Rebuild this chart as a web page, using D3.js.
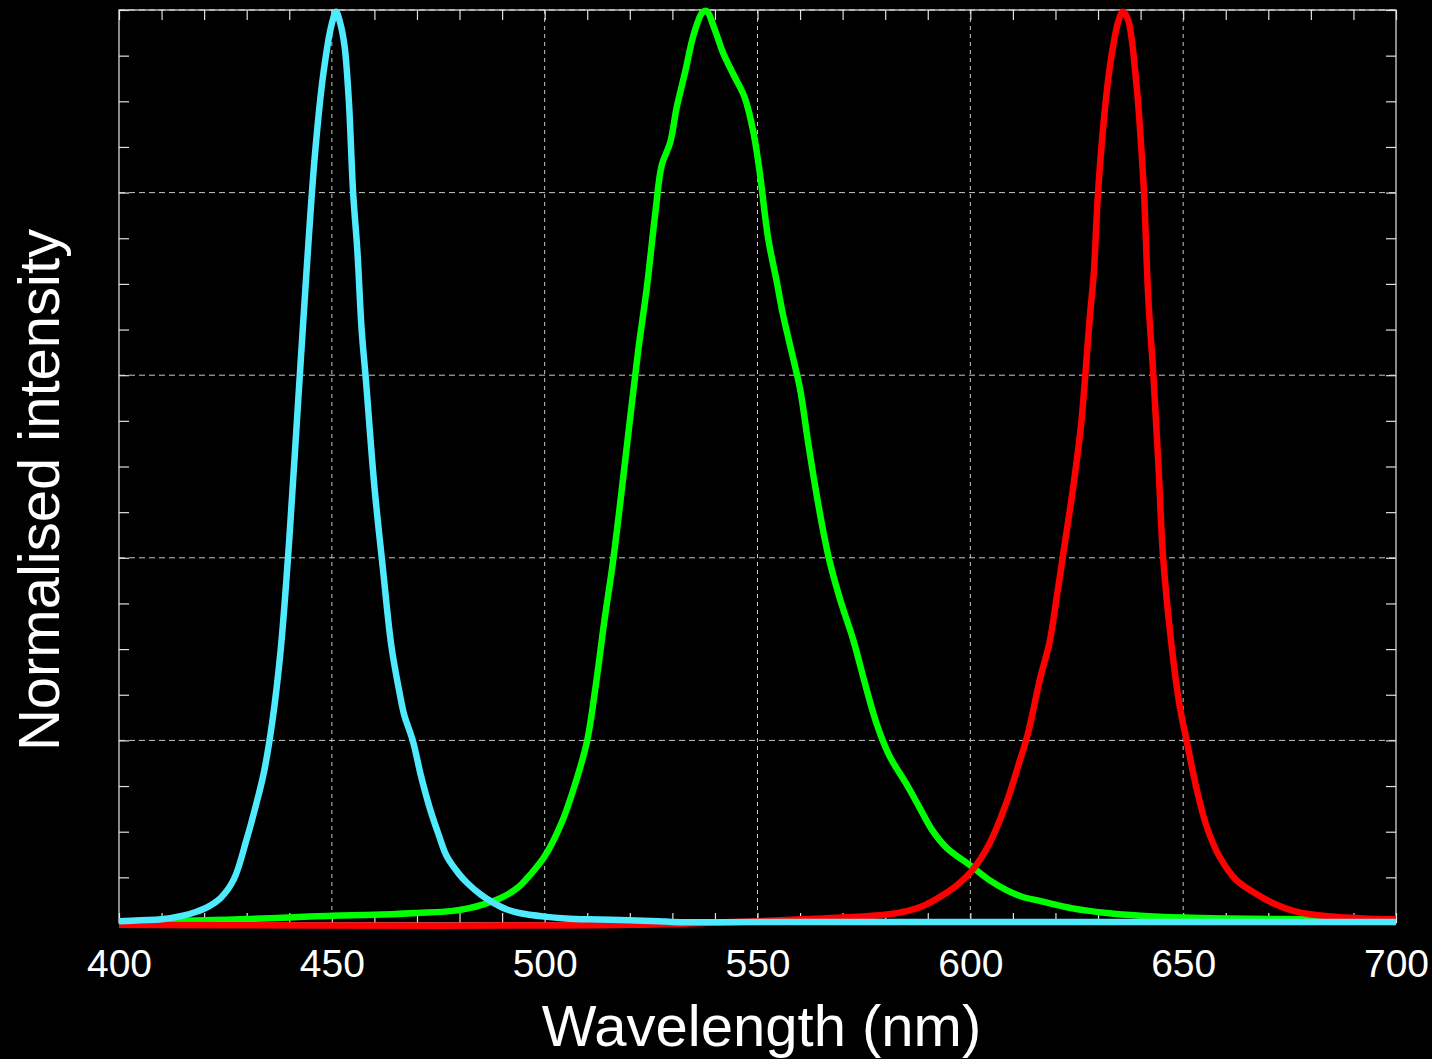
<!DOCTYPE html>
<html>
<head>
<meta charset="utf-8">
<script src="https://cdn.jsdelivr.net/npm/d3@7"></script>
<style>
html,body{margin:0;padding:0;background:#000;}
svg{display:block;}
</style>
</head>
<body>
<svg id="chart" width="1432" height="1059"></svg>
<script>
// ---- data ----
const xTickLabels = [400, 450, 500, 550, 600, 650, 700];
const xGridValues = [450, 500, 550, 600, 650];
const yGridValues = [0.2, 0.4, 0.6, 0.8, 1.0];

const blueWl  = [400,405,410,415,418,421,424,427,430,432,434,436,438,440,442,444,446,448,450,451,452,453,454,455,456,457,458,460,462,464,466,467,469,471,473,475,477,480,482,485,488,491,494,500,505,510,520,527,530,550,600,650,700];
const blueVal = [0.002,0.003,0.004,0.008,0.012,0.018,0.028,0.048,0.092,0.126,0.164,0.22,0.30,0.42,0.565,0.71,0.84,0.93,0.985,0.998,0.985,0.96,0.9,0.8,0.736,0.65,0.595,0.478,0.388,0.303,0.25,0.228,0.2,0.16,0.126,0.098,0.073,0.053,0.043,0.031,0.022,0.015,0.011,0.007,0.005,0.004,0.003,0.002,0.001,0.001,0.001,0.001,0.001];

const greenWl  = [400,420,440,450,460,470,478,482,486,490,494,497,500,504,508,510,512,514,516,518,520,522,524,526,527.5,529.5,531,533,535,537,538,540,542,544.5,547,549,550.5,552.5,554.5,556,558.5,560,562,564,566,567,569.5,572.5,575.5,578,581,585,588,591,594.5,600,604.5,608.5,612,616.5,624,632,640,650,660,680,700];
const greenVal = [0.002,0.003,0.006,0.008,0.009,0.011,0.013,0.016,0.021,0.028,0.04,0.055,0.073,0.11,0.165,0.2,0.26,0.33,0.394,0.47,0.55,0.628,0.696,0.778,0.83,0.855,0.893,0.932,0.973,0.997,0.999,0.978,0.952,0.928,0.904,0.867,0.823,0.75,0.703,0.666,0.616,0.585,0.523,0.466,0.416,0.395,0.353,0.31,0.258,0.218,0.183,0.152,0.127,0.102,0.082,0.063,0.047,0.036,0.029,0.024,0.016,0.011,0.008,0.006,0.005,0.004,0.003];

const redWl  = [400,520,550,560,570,580,585,589,593,597,600.5,604.5,608.5,611.5,613.5,616.5,618.5,620.5,622,624,626,627,628,629,630,631.5,633,634.8,635.8,637,639,640,640.8,641.8,643,644.2,645.3,647.3,649.2,650.8,653.2,655.5,658.5,662.5,667.5,671,677,685,692,700];
const redVal = [-0.002,-0.002,0.002,0.004,0.006,0.009,0.013,0.019,0.029,0.042,0.058,0.087,0.132,0.176,0.207,0.27,0.305,0.363,0.41,0.472,0.545,0.6,0.66,0.712,0.8,0.886,0.945,0.988,0.998,0.99,0.92,0.86,0.8,0.685,0.6,0.5,0.4,0.303,0.237,0.2,0.146,0.106,0.073,0.047,0.031,0.022,0.012,0.007,0.005,0.004];

const series = [
  {name: "green", wl: greenWl, val: greenVal, color: "#00ff00"},
  {name: "red",   wl: redWl,   val: redVal,   color: "#ff0000"},
  {name: "blue",  wl: blueWl,  val: blueVal,  color: "#50eaff"}
];

// ---- layout ----
const svg = d3.select("#chart");
const pLeft = 119, pRight = 1396, pTop = 10, pBottom = 923;

const x = d3.scaleLinear().domain([400, 700]).range([pLeft, pRight]);
const y = d3.scaleLinear().domain([0, 1]).range([pBottom, pTop]);

svg.append("rect").attr("width", 1432).attr("height", 1059).attr("fill", "#000");

const g = svg.append("g");

// grid
g.selectAll("line.vgrid").data(xGridValues).enter().append("line")
  .attr("x1", d => x(d)).attr("x2", d => x(d))
  .attr("y1", pTop).attr("y2", pBottom)
  .attr("stroke", "#c8c8c8").attr("stroke-width", 1).attr("stroke-dasharray", "4,4");
g.selectAll("line.hgrid").data(yGridValues).enter().append("line")
  .attr("x1", pLeft).attr("x2", pRight)
  .attr("y1", d => y(d)).attr("y2", d => y(d))
  .attr("stroke", "#c8c8c8").attr("stroke-width", 1).attr("stroke-dasharray", "6,4");

// minor ticks via axes
const tickLen = 10;
const xMinor = d3.range(400, 701, 10);
const yMinor = d3.range(0, 1.0001, 0.05);

const axBottom = d3.axisTop(x).tickValues(xMinor).tickSize(tickLen).tickFormat("");
const axTop = d3.axisBottom(x).tickValues(xMinor).tickSize(tickLen).tickFormat("");
const axLeft = d3.axisRight(y).tickValues(yMinor).tickSize(tickLen).tickFormat("");
const axRight = d3.axisLeft(y).tickValues(yMinor).tickSize(tickLen).tickFormat("");

function styleAxis(sel){
  sel.select(".domain").remove();
  sel.selectAll(".tick line").attr("stroke", "#e0e0e0").attr("stroke-width", 1.2);
}
g.append("g").attr("transform", `translate(0,${pBottom})`).call(axBottom).call(styleAxis);
g.append("g").attr("transform", `translate(0,${pTop})`).call(axTop).call(styleAxis);
g.append("g").attr("transform", `translate(${pLeft},0)`).call(axLeft).call(styleAxis);
g.append("g").attr("transform", `translate(${pRight},0)`).call(axRight).call(styleAxis);

// frame
g.append("rect").attr("x", pLeft).attr("y", pTop)
  .attr("width", pRight - pLeft).attr("height", pBottom - pTop)
  .attr("fill", "none").attr("stroke", "#e6e6e6").attr("stroke-width", 1.2);

// x tick labels
const labAxis = d3.axisBottom(x).tickValues(xTickLabels).tickSize(0).tickPadding(0).tickFormat(d3.format("d"));
const labG = svg.append("g").attr("transform", `translate(0,${pBottom})`).call(labAxis);
labG.select(".domain").remove();
labG.selectAll(".tick text")
  .attr("y", 54).attr("dy", 0)
  .attr("fill", "#fff")
  .style("font-family", "Liberation Sans, Arial, sans-serif")
  .style("font-size", "39px");

// curves
const line = d3.line()
  .x(d => x(d[0])).y(d => y(d[1]))
  .curve(d3.curveCatmullRom.alpha(0.5));

series.forEach(s => {
  const pts = s.wl.map((w, i) => [w, s.val[i]]);
  svg.append("path").datum(pts)
    .attr("d", line)
    .attr("fill", "none")
    .attr("stroke", s.color)
    .attr("stroke-width", 6.5)
    .attr("stroke-linejoin", "round")
    .attr("stroke-linecap", "butt");
});

// axis titles
svg.append("text")
  .attr("x", (pLeft + pRight) / 2 + 4).attr("y", 1046)
  .attr("text-anchor", "middle")
  .attr("fill", "#fff")
  .style("font-family", "Liberation Sans, Arial, sans-serif")
  .style("font-size", "58px")
  .text("Wavelength (nm)");

svg.append("text")
  .attr("transform", "translate(59,490) rotate(-90)")
  .attr("text-anchor", "middle")
  .attr("fill", "#fff")
  .style("font-family", "Liberation Sans, Arial, sans-serif")
  .style("font-size", "58px")
  .text("Normalised intensity");
</script>
</body>
</html>
